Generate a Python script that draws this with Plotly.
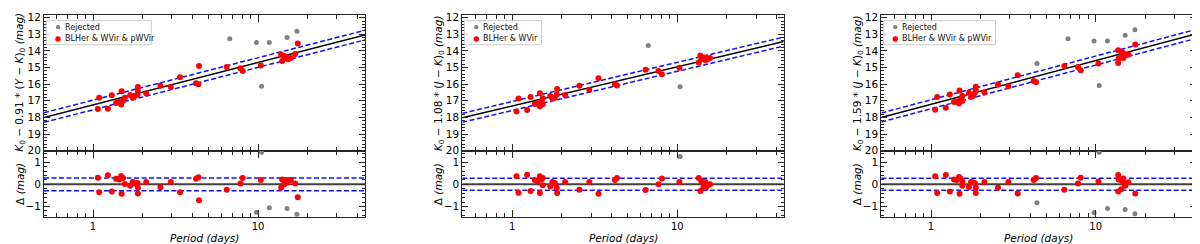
import math
import plotly.graph_objects as go

W, H = 1200, 244

# ---------------- data ----------------
# Panel 1 : K0 - 0.91*(Y-K)0
p1_period = [1.07, 1.09, 1.23, 1.30, 1.38, 1.44, 1.49, 1.48, 1.52, 1.56, 1.68, 1.74, 1.79, 1.86, 1.87, 1.87,
             2.10, 2.56, 2.96, 3.37, 4.21, 4.35, 4.39, 6.46, 7.82, 8.07, 10.4, 13.8, 14.0, 14.4, 14.9, 15.2,
             15.8, 16.8, 17.4]
p1_mag = [17.50, 16.81, 17.48, 16.67, 17.13, 17.08, 16.42, 17.23, 17.00, 16.81, 16.65, 16.81, 16.71, 16.65,
          16.17, 16.42, 16.54, 16.10, 16.17, 15.58, 15.94, 16.00, 14.90, 14.96, 15.04, 15.21, 14.87, 14.21,
          14.60, 14.31, 14.37, 14.50, 14.42, 14.19, 13.56]
p1_resid = [0.30, -0.36, 0.41, -0.32, 0.25, 0.22, -0.43, 0.38, 0.29, 0.02, -0.07, 0.10, 0.04, 0.06, -0.42,
            -0.16, 0.10, -0.13, 0.10, -0.36, 0.25, 0.32, -0.72, -0.25, 0.04, 0.28, 0.19, -0.15, 0.22, 0.00,
            0.07, 0.20, 0.20, 0.04, -0.58]
p1_rej_period = [6.74, 9.77, 11.7, 15.0, 17.2, 10.5]
p1_rej_mag = [13.27, 13.50, 13.50, 13.19, 12.81, 16.13]
p1_rej_resid = [-1.87, -1.26, -1.06, -1.09, -1.35, 1.45]

# Panel 2 : K0 - 1.08*(J-K)0
p2_period = [1.06, 1.09, 1.23, 1.29, 1.37, 1.42, 1.47, 1.47, 1.50, 1.53, 1.53, 1.70, 1.75, 1.81, 1.86, 1.87,
             2.09, 2.55, 2.93, 3.33, 4.19, 4.31, 6.43, 7.70, 8.07, 10.3, 13.5, 13.8, 14.0, 14.4, 14.8, 14.9,
             15.3, 15.8]
p2_mag = [17.65, 16.87, 17.56, 16.77, 17.19, 17.15, 16.54, 17.33, 17.04, 16.85, 17.21, 16.71, 16.85, 16.81,
          16.62, 16.29, 16.65, 16.10, 16.33, 15.65, 16.00, 16.08, 15.13, 15.21, 15.40, 15.02, 14.69, 14.27,
          14.50, 14.40, 14.56, 14.40, 14.50, 14.42]
p2_resid = [0.36, -0.38, 0.43, -0.30, 0.19, 0.14, -0.39, 0.36, 0.22, -0.04, 0.29, -0.10, 0.10, 0.06, -0.16,
            -0.39, 0.10, -0.25, 0.10, -0.43, 0.20, 0.28, -0.26, 0.00, 0.26, 0.10, 0.29, -0.30, 0.14, -0.12,
            0.10, -0.15, -0.04, 0.00]
p2_rej_period = [6.67, 10.4]
p2_rej_mag = [13.67, 16.15]
p2_rej_resid = [-1.70, 1.26]

# Panel 3 : K0 - 1.59*(J-K)0
p3_period = [1.06, 1.09, 1.23, 1.30, 1.38, 1.43, 1.49, 1.48, 1.51, 1.55, 1.55, 1.70, 1.75, 1.80, 1.85, 1.87,
             1.87, 2.11, 2.55, 2.95, 3.36, 4.20, 4.34, 6.45, 7.81, 8.11, 10.4, 13.7, 13.7, 13.8, 14.3, 14.5,
             14.7, 14.9, 15.1, 15.8, 17.4]
p3_mag = [17.54, 16.77, 17.42, 16.62, 17.08, 17.04, 16.38, 17.17, 16.92, 16.71, 17.02, 16.52, 16.77, 16.71,
          16.52, 16.15, 16.33, 16.48, 16.02, 16.12, 15.46, 15.81, 15.88, 14.90, 14.96, 15.17, 14.75, 13.96,
          14.73, 14.46, 14.37, 14.08, 14.42, 14.17, 14.27, 14.21, 13.62]
p3_resid = [0.36, -0.39, 0.42, -0.32, 0.22, 0.19, -0.43, 0.33, 0.26, -0.07, 0.14, -0.12, 0.10, 0.09, 0.05,
            -0.39, -0.16, 0.10, -0.16, 0.10, -0.42, 0.20, 0.28, -0.25, 0.04, 0.30, 0.13, -0.32, 0.42, 0.22,
            -0.22, 0.14, 0.26, 0.04, -0.07, 0.09, -0.41]
p3_rej_period = [6.79, 4.40, 9.77, 11.8, 15.1, 17.3, 10.5]
p3_rej_mag = [13.27, 14.75, 13.40, 13.40, 13.06, 12.73, 16.08]
p3_rej_resid = [-1.75, -0.83, -1.28, -1.09, -1.14, -1.33, 1.45]

# fitted relations  mag = zp + slope*log10(P), scatter sigma
fit_zp = [17.25, 17.31, 17.21]
fit_slope = [-2.55, -2.354, -2.63]
fit_sigma = [0.29, 0.27, 0.27]

ylabels = [
    "<i>K</i><sub>0</sub> − 0.91 * (<i>Y</i> − <i>K</i>)<sub>0</sub> <i>(mag)</i>",
    "<i>K</i><sub>0</sub> − 1.08 * (<i>J</i> − <i>K</i>)<sub>0</sub> <i>(mag)</i>",
    "<i>K</i><sub>0</sub> − 1.59 * (<i>J</i> − <i>K</i>)<sub>0</sub> <i>(mag)</i>",
]
legend_labels = ["BLHer & WVir & pWVir", "BLHer & WVir", "BLHer & WVir & pWVir"]
rej_label = "Rejected"

panels = [
    (p1_period, p1_mag, p1_resid, p1_rej_period, p1_rej_mag, p1_rej_resid),
    (p2_period, p2_mag, p2_resid, p2_rej_period, p2_rej_mag, p2_rej_resid),
    (p3_period, p3_mag, p3_resid, p3_rej_period, p3_rej_mag, p3_rej_resid),
]

# ---------------- layout geometry (pixels) ----------------
px_left = [36, 454.3, 873.3]
px_right = [357, 775.7, 1188.3]
x_ranges = [[-0.297, 1.648], [-0.303, 1.645], [-0.302, 1.611]]
top_y = (4, 145)
bot_y = (145, 214)
legend_w = [105, 77, 112]

def px_x(p):
    return p / W

def px_y(p):
    return 1 - p / H

AX = "#262626"
FONT = "DejaVu Sans"
minor_x = [0.6, 0.7, 0.8, 0.9, 2, 3, 4, 5, 6, 7, 8, 9, 20, 30, 40]

fig = go.Figure()
layout = dict(width=W, height=H, margin=dict(l=0, r=0, t=0, b=0),
              paper_bgcolor="white", plot_bgcolor="white", showlegend=False,
              font=dict(family=FONT, size=10, color="black"))
shapes = []
annotations = []

def axname(k, letter):
    return f"{letter}axis" if k == 1 else f"{letter}axis{k}"

def axref(k, letter):
    return letter if k == 1 else f"{letter}{k}"

for i, (per, mag, res, rper, rmag, rres) in enumerate(panels):
    t = 2 * i + 1
    b = 2 * i + 2
    xdom = [px_x(px_left[i]), px_x(px_right[i])]
    xr = x_ranges[i]
    for k, ydom_px, labels in ((t, top_y, False), (b, bot_y, True)):
        layout[axname(k, "x")] = dict(
            domain=xdom, range=xr, type="log", anchor=axref(k, "y"),
            showline=True, linecolor=AX, linewidth=1, mirror="allticks",
            ticks="inside", ticklen=7, tickwidth=1, tickcolor=AX,
            tickvals=[1, 10], ticktext=["1", "10"], showticklabels=labels,
            showgrid=False, zeroline=False, tickfont=dict(size=10),
            minor=dict(tickvals=minor_x, ticks="inside", ticklen=4, tickwidth=1,
                       tickcolor=AX, showgrid=False))
    layout[axname(t, "y")] = dict(
        domain=[px_y(top_y[1]), px_y(top_y[0])], range=[20, 11.83], anchor=axref(t, "x"),
        showline=True, linecolor=AX, linewidth=1, mirror="allticks",
        ticks="inside", ticklen=6, tickwidth=1, tickcolor=AX, tick0=12, dtick=1,
        showgrid=False, zeroline=False, tickfont=dict(size=10.5),
        minor=dict(dtick=0.2, ticks="inside", ticklen=3, tickwidth=1, tickcolor=AX, showgrid=False))
    layout[axname(b, "y")] = dict(
        domain=[px_y(bot_y[1]), px_y(bot_y[0])], range=[-1.48, 1.52], anchor=axref(b, "x"),
        showline=True, linecolor=AX, linewidth=1, mirror="allticks",
        ticks="inside", ticklen=6, tickwidth=1, tickcolor=AX, tick0=0, dtick=1,
        showgrid=False, zeroline=False, tickfont=dict(size=10.5),
        minor=dict(dtick=0.2, ticks="inside", ticklen=3, tickwidth=1, tickcolor=AX, showgrid=False))

    xt, yt = axref(t, "x"), axref(t, "y")
    xb, yb = axref(b, "x"), axref(b, "y")

    # fit lines (top)
    lx = [10 ** xr[0], 10 ** xr[1]]
    fit_y = [fit_zp[i] + fit_slope[i] * math.log10(v) for v in lx]
    s = fit_sigma[i]
    dash = "5px,2.5px"
    fig.add_trace(go.Scatter(x=lx, y=fit_y, mode="lines", line=dict(color="black", width=1.5),
                             xaxis=xt, yaxis=yt, hoverinfo="skip"))
    for sgn in (-1, 1):
        fig.add_trace(go.Scatter(x=lx, y=[v + sgn * s for v in fit_y], mode="lines",
                                 line=dict(color="#1010ff", width=1.5, dash=dash),
                                 xaxis=xt, yaxis=yt, hoverinfo="skip"))
    # residual lines
    fig.add_trace(go.Scatter(x=lx, y=[0, 0], mode="lines", line=dict(color="#404040", width=2),
                             xaxis=xb, yaxis=yb, hoverinfo="skip"))
    for sgn in (-1, 1):
        fig.add_trace(go.Scatter(x=lx, y=[sgn * s, sgn * s], mode="lines",
                                 line=dict(color="#1010ff", width=1.5, dash=dash),
                                 xaxis=xb, yaxis=yb, hoverinfo="skip"))
    # points
    fig.add_trace(go.Scatter(x=rper, y=rmag, mode="markers", name=rej_label,
                             marker=dict(color="#808080", size=5), xaxis=xt, yaxis=yt))
    fig.add_trace(go.Scatter(x=per, y=mag, mode="markers", name=legend_labels[i],
                             marker=dict(color="#ff0000", size=6), xaxis=xt, yaxis=yt))
    fig.add_trace(go.Scatter(x=rper, y=rres, mode="markers", name=rej_label,
                             marker=dict(color="#808080", size=5), xaxis=xb, yaxis=yb))
    fig.add_trace(go.Scatter(x=per, y=res, mode="markers", name=legend_labels[i],
                             marker=dict(color="#ff0000", size=6), xaxis=xb, yaxis=yb))

    # axis titles
    lab_x = px_x(px_left[i] - 24)
    annotations.append(dict(text=ylabels[i], x=lab_x, y=px_y((top_y[0] + top_y[1]) / 2),
                            xref="paper", yref="paper", showarrow=False, textangle=-90,
                            xanchor="center", yanchor="middle", font=dict(size=10.5)))
    annotations.append(dict(text="Δ <i>(mag)</i>", x=lab_x, y=px_y((bot_y[0] + bot_y[1]) / 2),
                            xref="paper", yref="paper", showarrow=False, textangle=-90,
                            xanchor="center", yanchor="middle", font=dict(size=10.5)))
    annotations.append(dict(text="<i>Period (days)</i>", x=px_x((px_left[i] + px_right[i]) / 2),
                            y=px_y(236), xref="paper", yref="paper", showarrow=False,
                            xanchor="center", yanchor="middle", font=dict(size=10.5)))

    # legend box
    L = px_left[i]
    shapes.append(dict(type="rect", xref="paper", yref="paper",
                       x0=px_x(L + 2.3), x1=px_x(L + 2.3 + legend_w[i]), y0=px_y(35), y1=px_y(10),
                       line=dict(color="#cccccc", width=1), fillcolor="rgba(255,255,255,0.8)"))
    for py, col, r, txt in ((16.7, "#808080", 2.2, rej_label), (29, "#ff0000", 2.7, legend_labels[i])):
        shapes.append(dict(type="circle", xref="paper", yref="paper", xsizemode="pixel",
                           ysizemode="pixel", xanchor=px_x(L + 14), yanchor=px_y(py),
                           x0=-r, x1=r, y0=-r, y1=r, fillcolor=col, line=dict(width=0)))
        annotations.append(dict(text=txt, x=px_x(L + 19), y=px_y(py), xref="paper", yref="paper",
                                showarrow=False, xanchor="left", yanchor="middle",
                                font=dict(size=8, color="#111111")))

layout["shapes"] = shapes
layout["annotations"] = annotations
fig.update_layout(**layout)
fig.write_html("out.html")
